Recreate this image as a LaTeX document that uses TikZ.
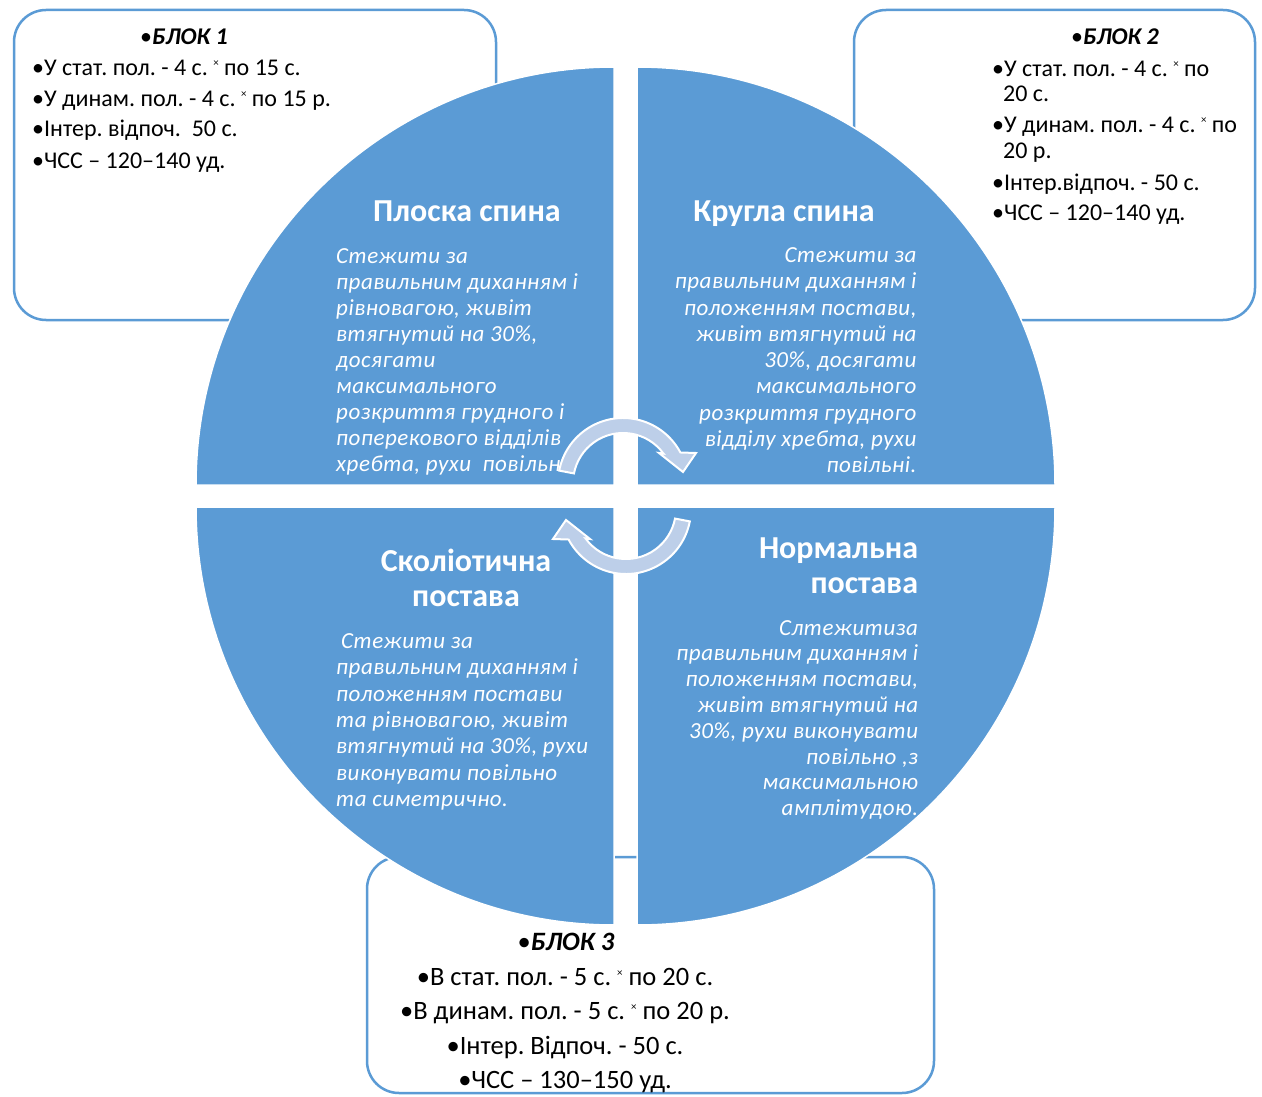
\documentclass[tikz,border=0pt]{standalone}
\usepackage{fontspec}
\setmainfont{Carlito}
\newfontfamily\bodyfont[LetterSpace=2.3]{Carlito}
\definecolor{qblue}{RGB}{91,155,213}
\definecolor{aro}{RGB}{189,207,233}
\newcommand\crx{\raisebox{9pt}{\fontsize{11}{11}\selectfont ×}}
\frenchspacing
\begin{document}
\frenchspacing
\begin{tikzpicture}[x=1pt,y=-1pt,
 boxst/.style={draw=qblue, line width=2.5pt, fill=white, rounded corners=32pt},
 quad/.style={fill=qblue, draw=white, line width=1.5pt},
 blk/.style={inner sep=0pt, font=\fontsize{24}{29}\selectfont, text=black},
 blkc/.style={inner sep=0pt, font=\fontsize{26.5}{31}\selectfont, text=black},
 ttl/.style={inner sep=0pt, font=\fontsize{32}{38}\selectfont\bfseries, text=white},
 bdy/.style={inner sep=0pt, font=\bodyfont\fontsize{23}{26}\selectfont\itshape, text=white},
 arw/.style={fill=aro, draw=white, line width=2pt}]
\useasboundingbox (0,0) rectangle (1262,1097);
\fill[white] (0,0) rectangle (1262,1097);
% boxes
\draw[boxst] (14,10) rectangle (496,320);
\draw[boxst] (854,10) rectangle (1255,320);
\draw[boxst] (367,857) rectangle (934,1093);
% quadrants
\path[quad] (614,485) -- (196,485) arc[start angle=180, end angle=270, radius=418] -- cycle;
\path[quad] (637,485) -- (637,67) arc[start angle=270, end angle=360, radius=418] -- cycle;
\path[quad] (614,507) -- (196,507) arc[start angle=180, end angle=90, radius=418] -- cycle;
\path[quad] (637,507) -- (1055,507) arc[start angle=0, end angle=90, radius=418] -- cycle;
% block 1
\node[blk,anchor=base] (b1h) at (184,45) {•\textbf{\textit{БЛОК 1}}};
\node[blk,anchor=base west] (b1a) at (32,76) {•У стат. пол. - 4 с. \crx{} по 15 с.};
\node[blk,anchor=base west] (b1b) at (32,107) {•У динам. пол. - 4 с. \crx{} по 15 р.};
\node[blk,anchor=base west] (b1c) at (32,137) {•Інтер. відпоч.\ \ 50 с.};
\node[blk,anchor=base west] (b1d) at (32,168) {•ЧСС – 120–140 уд.};
% block 2
\node[blk,anchor=base] (b2h) at (1115,45) {•\textbf{\textit{БЛОК 2}}};
\node[blk,anchor=base west] (b2a) at (992,76.5) {•У стат. пол. - 4 с. \crx{} по};
\node[blk,anchor=base west] (b2a2) at (1003,101.5) {20 с.};
\node[blk,anchor=base west] (b2b) at (992,133) {•У динам. пол. - 4 с. \crx{} по};
\node[blk,anchor=base west] (b2b2) at (1003,158.5) {20 р.};
\node[blk,anchor=base west] (b2c) at (992,190) {•Інтер.відпоч. - 50 с.};
\node[blk,anchor=base west] (b2d) at (992,221) {•ЧСС – 120–140 уд.};
% block 3
\node[blkc,anchor=base] (b3h) at (566,950) {•\textbf{\textit{БЛОК 3}}};
\node[blkc,anchor=base] (b3a) at (565,985) {•В стат. пол. - 5 с. \crx{} по 20 с.};
\node[blkc,anchor=base] (b3b) at (565,1019) {•В динам. пол. - 5 с. \crx{} по 20 р.};
\node[blkc,anchor=base] (b3c) at (565,1054) {•Інтер. Відпоч. - 50 с.};
\node[blkc,anchor=base] (b3d) at (565,1088) {•ЧСС – 130–150 уд.};
% titles
\node[ttl,anchor=base] (t1) at (467,221.7) {Плоска спина};
\node[ttl,anchor=base] (t2) at (784,222) {Кругла спина};
\node[ttl,anchor=base] (t3a) at (466,571.7) {Сколіотична};
\node[ttl,anchor=base] (t3b) at (466,606.7) {постава};
\node[ttl,anchor=base east] (t4a) at (918.3,558.3) {Нормальна};
\node[ttl,anchor=base east] (t4b) at (918.3,593.3) {постава};
% bodies
\foreach \t [count=\i from 0] in {Стежити за, правильним диханням і, {рівновагою, живіт}, {втягнутий на 30\%,}, досягати, максимального, розкриття грудного і, поперекового відділів, {хребта, рухи\ \ повільні.}}
  \node[bdy,anchor=base west] (tl\i) at (336,263+26.1*\i) {\t};
\foreach \t [count=\i from 0] in {Стежити за, правильним диханням і, {положенням постави,}, живіт втягнутий на, {30\%, досягати}, максимального, розкриття грудного, {відділу хребта, рухи}, повільні.}
  \node[bdy,anchor=base east] (tr\i) at (916.7,262.7+26.25*\i) {\t};
\foreach \t [count=\i from 0] in {\hspace{5pt}Стежити за, правильним диханням і, положенням постави, {та рівновагою, живіт}, {втягнутий на 30\%, рухи}, виконувати повільно, та симетрично.}
  \node[bdy,anchor=base west] (bl\i) at (336,648.3+26.4*\i) {\t};
\foreach \t [count=\i from 0] in {Слтежитиза, правильним диханням і, {положенням постави,}, живіт втягнутий на, {30\%, рухи виконувати}, {повільно ,з}, максимальною, амплітудою.}
  \node[bdy,anchor=base east] (br\i) at (918.3,635+25.8*\i) {\t};
% arrows
\path[arw] (623,483) ++(-169:65) arc[start angle=-169, end angle=-28, radius=65] -- (696,453) -- (683,472) -- (659,453) -- (663.5,453.6) arc[start angle=-36, end angle=-169, radius=50] -- cycle;
\begin{scope}[rotate around={180:(624.5,496)}]
\path[arw] (623,483) ++(-169:65) arc[start angle=-169, end angle=-28, radius=65] -- (696,453) -- (683,472) -- (659,453) -- (663.5,453.6) arc[start angle=-36, end angle=-169, radius=50] -- cycle;
\end{scope}
\end{tikzpicture}
\end{document}
